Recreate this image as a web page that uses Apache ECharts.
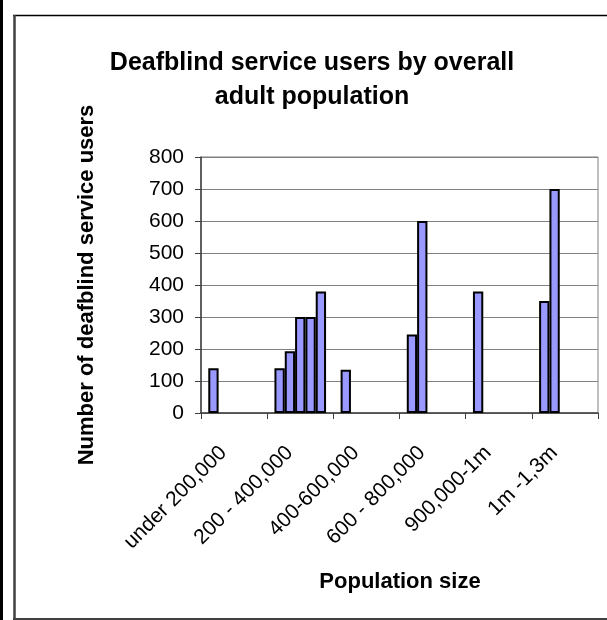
<!DOCTYPE html>
<html>
<head>
<meta charset="utf-8">
<script src="https://cdn.jsdelivr.net/npm/echarts@6/dist/echarts.min.js"></script>
<style>
  html, body { margin: 0; padding: 0; background: #ffffff; }
  #chart { width: 607px; height: 620px; }
</style>
</head>
<body>
<div id="chart"></div>
<script>
// Population bands on the category axis
const categories = ['under 200,000', '200 - 400,000', '400-600,000', '600 - 800,000', '900,000-1m', '1m -1,3m'];

// Service-user counts per authority, grouped by band (null = no authority in that slot)
const authority1 = [140, 140, 135, 245, 380, 350];
const authority2 = [null, 193, null, 600, null, 700];
const authority3 = [null, 300, null, null, null, null];
const authority4 = [null, 300, null, null, null, null];
const authority5 = [null, 380, null, null, null, null];

// Value-axis ticks
const yTicks = [0, 100, 200, 300, 400, 500, 600, 700, 800];

const chartTitle = ['Deafblind service users by overall', 'adult population'];
const yTitle = 'Number of deafblind service users';
const xTitle = 'Population size';

const FONT = 'Arial, "Liberation Sans", sans-serif';

const groups = [authority1, authority2, authority3, authority4, authority5];

const chart = echarts.init(document.getElementById('chart'), null, { renderer: 'canvas' });

const barSeries = groups.map((vals, i) => ({
  type: 'bar',
  name: 'Authority ' + (i + 1),
  data: vals,
  barGap: '0%',
  barCategoryGap: '22%',
  itemStyle: { color: '#9999FF', borderColor: '#000000', borderWidth: 2 },
  emphasis: { disabled: true },
  animation: false
}));

chart.setOption({
  animation: false,
  backgroundColor: '#ffffff',
  grid: { left: 201, right: 9, top: 157, bottom: 207, show: true, borderColor: '#808080', borderWidth: 1 },
  xAxis: {
    type: 'category',
    data: categories,
    axisLine: { show: true, lineStyle: { color: '#404040', width: 1.5 } },
    axisTick: { show: true, length: 6, lineStyle: { color: '#404040' } },
    axisLabel: {
      rotate: 45, color: '#000', fontFamily: FONT, fontSize: 21, margin: 26, interval: 0,
      padding: [0, 15, 0, 0]
    },
    splitLine: { show: false }
  },
  yAxis: {
    type: 'value',
    min: yTicks[0],
    max: yTicks[yTicks.length - 1],
    interval: yTicks[1] - yTicks[0],
    axisLine: { show: true, lineStyle: { color: '#404040', width: 1.5 } },
    axisTick: { show: true, length: 6, lineStyle: { color: '#404040' } },
    axisLabel: { color: '#000', fontFamily: FONT, fontSize: 21, margin: 17 },
    splitLine: { show: true, lineStyle: { color: '#808080', width: 1 } }
  },
  series: barSeries,
  graphic: [
    // left edge strip
    { type: 'rect', shape: { x: 0, y: 0, width: 3, height: 620 }, style: { fill: '#000' }, silent: true },
    // chart frame
    { type: 'line', shape: { x1: 13, y1: 15.5, x2: 607, y2: 15.5 }, style: { stroke: '#000', lineWidth: 1.5 }, silent: true },
    { type: 'line', shape: { x1: 14.5, y1: 15, x2: 14.5, y2: 620 }, style: { stroke: '#404040', lineWidth: 2.5 }, silent: true },
    { type: 'line', shape: { x1: 13, y1: 619, x2: 607, y2: 619 }, style: { stroke: '#404040', lineWidth: 2 }, silent: true },
    // chart title
    {
      type: 'text', silent: true,
      style: {
        x: 312, y: 63, text: chartTitle[0], fill: '#000',
        font: 'bold 25px ' + FONT, textAlign: 'center', textVerticalAlign: 'middle'
      }
    },
    {
      type: 'text', silent: true,
      style: {
        x: 312, y: 97, text: chartTitle[1], fill: '#000',
        font: 'bold 25px ' + FONT, textAlign: 'center', textVerticalAlign: 'middle'
      }
    },
    // value-axis title
    {
      type: 'text', silent: true, rotation: Math.PI / 2, x: 87, y: 285,
      style: {
        x: 0, y: 0, text: yTitle, fill: '#000',
        font: 'bold 22px ' + FONT, textAlign: 'center', textVerticalAlign: 'middle'
      }
    },
    // category-axis title
    {
      type: 'text', silent: true,
      style: {
        x: 400, y: 582, text: xTitle, fill: '#000',
        font: 'bold 22px ' + FONT, textAlign: 'center', textVerticalAlign: 'middle'
      }
    }
  ]
});
</script>
</body>
</html>
